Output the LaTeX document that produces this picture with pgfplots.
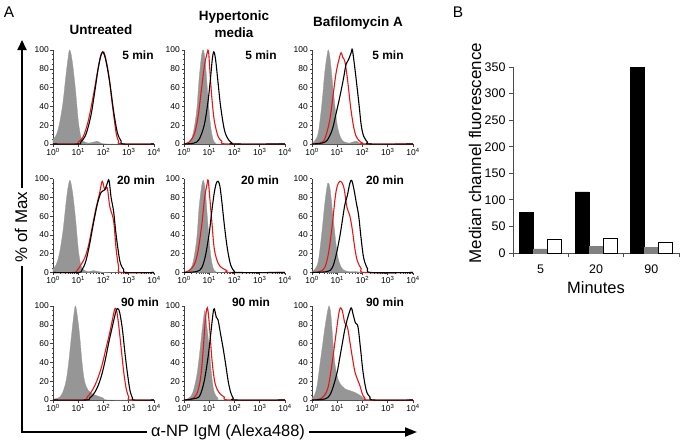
\documentclass[border=0pt]{standalone}
\usepackage{fontspec}
\setmainfont{Liberation Sans}
\usepackage{pgfplots}
\pgfplotsset{compat=1.18}
\usetikzlibrary{arrows.meta}

\definecolor{histgray}{RGB}{150,150,150}
\definecolor{fred}{RGB}{235,20,20}
\definecolor{bargray}{RGB}{128,128,128}

% one histogram panel, x in log10 units
\pgfplotsset{hist/.style={
  scale only axis, width=101bp, height=94bp, anchor=south west,
  xmin=0, xmax=4, ymin=0, ymax=100, clip=false,
  axis lines*=left, axis line style={black!75, line width=0.6bp},
  xtick={0,1,2,3,4},
  xticklabels={10\textsuperscript{0},10\textsuperscript{1},10\textsuperscript{2},10\textsuperscript{3},10\textsuperscript{4}},
  minor xtick={0.301,0.477,0.602,0.699,0.778,0.845,0.903,0.954,
    1.301,1.477,1.602,1.699,1.778,1.845,1.903,1.954,
    2.301,2.477,2.602,2.699,2.778,2.845,2.903,2.954,
    3.301,3.477,3.602,3.699,3.778,3.845,3.903,3.954},
  ytick={0,20,...,100}, minor y tick num=3,
  tick align=outside, major tick length=2.5bp, minor tick length=1.3bp,
  tick style={black!75, line width=0.5bp},
  ticklabel style={font=\fontsize{8.5}{9}\selectfont, inner sep=1.5bp},
  /pgf/number format/assume math mode=true,
  every axis plot/.append style={line width=1.1bp, smooth, tension=0.55},
}}
\pgfplotsset{gfill/.style={fill=histgray, draw=histgray, line width=0.3bp}}

\begin{document}
\begin{tikzpicture}
\useasboundingbox (0,0) rectangle (683bp,-440bp);

% ---------- row 1: 5 min ----------
\begin{axis}[hist, at={(53bp,-144bp)}]
\addplot[gfill] coordinates {(0,5)(0.1,8)(0.2,15)(0.3,28)(0.4,45)(0.5,70)(0.58,88)(0.65,100)(0.72,95)(0.8,80)(0.9,55)(1.0,25)(1.1,8)(1.2,3)(1.4,1)(1.6,2)(1.75,3)(1.9,1)(2.2,0)(4,0)} \closedcycle;
\addplot[fred] coordinates {(0,0)(0.9,0)(1.0,2)(1.2,8)(1.4,25)(1.6,52)(1.75,75)(1.88,93)(1.97,98)(2.05,95)(2.2,75)(2.35,42)(2.5,12)(2.6,3)(2.7,0)(4,0)};
\addplot[black] coordinates {(0,0)(1.0,0)(1.1,2)(1.3,10)(1.5,30)(1.65,55)(1.8,82)(1.92,96)(2.0,97)(2.1,88)(2.25,65)(2.4,35)(2.55,12)(2.7,3)(2.8,0)(4,0)};
\end{axis}
\begin{axis}[hist, at={(184bp,-144bp)}]
\addplot[gfill] coordinates {(0,0)(0.2,2)(0.35,10)(0.5,35)(0.6,70)(0.7,95)(0.77,100)(0.85,85)(0.95,50)(1.05,20)(1.15,5)(1.25,1)(1.4,0)(4,0)} \closedcycle;
\addplot[fred] coordinates {(0,0)(0.2,2)(0.4,10)(0.55,28)(0.7,60)(0.82,85)(0.92,97)(0.97,99)(1.02,80)(1.1,50)(1.2,25)(1.35,8)(1.5,3)(1.7,0)(4,0)};
\addplot[black] coordinates {(0,0)(0.4,1)(0.6,5)(0.8,20)(0.95,45)(1.05,70)(1.12,90)(1.18,98)(1.25,90)(1.35,65)(1.45,40)(1.6,15)(1.75,5)(1.9,1)(2.0,0)(4,0)};
\end{axis}
\begin{axis}[hist, at={(312bp,-144bp)}]
\addplot[gfill] coordinates {(0,1)(0.1,3)(0.25,12)(0.4,45)(0.5,75)(0.6,95)(0.65,100)(0.72,90)(0.85,55)(1.0,20)(1.15,6)(1.3,2)(1.5,1)(1.6,2)(1.75,3)(1.9,1)(2.2,0)(4,0)} \closedcycle;
\addplot[fred] coordinates {(0,0)(0.3,1)(0.5,5)(0.7,25)(0.85,55)(0.95,75)(1.05,88)(1.15,97)(1.22,92)(1.3,88)(1.4,70)(1.55,35)(1.7,12)(1.85,4)(2.0,1)(2.1,0)(4,0)};
\addplot[black] coordinates {(0,0)(0.4,1)(0.6,4)(0.8,15)(0.95,32)(1.1,50)(1.25,70)(1.35,85)(1.45,90)(1.55,97)(1.6,100)(1.7,80)(1.85,45)(1.95,20)(2.05,8)(2.2,2)(2.3,0)(4,0)};
\end{axis}

% ---------- row 2: 20 min ----------
\begin{axis}[hist, at={(53bp,-272.5bp)}]
\addplot[gfill] coordinates {(0,4)(0.1,7)(0.2,14)(0.3,27)(0.4,45)(0.5,70)(0.58,88)(0.66,98)(0.72,94)(0.8,80)(0.9,55)(1.0,25)(1.1,8)(1.2,3)(1.4,1)(1.6,2)(1.8,1)(2.2,0)(4,0)} \closedcycle;
\addplot[fred] coordinates {(0,0)(0.8,0)(0.95,2)(1.1,8)(1.25,15)(1.4,28)(1.55,48)(1.7,68)(1.85,85)(1.95,97)(2.05,88)(2.15,90)(2.25,70)(2.4,55)(2.5,25)(2.6,6)(2.7,0)(4,0)};
\addplot[black] coordinates {(0,0)(1.0,0)(1.15,3)(1.3,12)(1.45,30)(1.6,52)(1.75,72)(1.9,85)(2.05,88)(2.15,95)(2.22,98)(2.3,80)(2.4,65)(2.5,40)(2.65,12)(2.8,3)(2.9,0)(4,0)};
\end{axis}
\begin{axis}[hist, at={(184bp,-272.5bp)}]
\addplot[gfill] coordinates {(0,0)(0.2,2)(0.35,10)(0.5,35)(0.6,70)(0.7,92)(0.77,98)(0.85,85)(0.95,50)(1.05,20)(1.15,5)(1.25,1)(1.4,0)(4,0)} \closedcycle;
\addplot[fred] coordinates {(0,0)(0.2,2)(0.4,8)(0.55,22)(0.7,50)(0.82,80)(0.92,95)(0.96,98)(1.02,80)(1.1,55)(1.2,25)(1.35,10)(1.5,5)(1.7,2)(1.85,0)(4,0)};
\addplot[black] coordinates {(0,0)(0.5,1)(0.7,5)(0.85,18)(1.0,42)(1.1,65)(1.2,85)(1.28,95)(1.35,97)(1.42,92)(1.5,75)(1.6,50)(1.72,25)(1.85,8)(2.0,1)(2.1,0)(4,0)};
\end{axis}
\begin{axis}[hist, at={(312bp,-272.5bp)}]
\addplot[gfill] coordinates {(0,1)(0.1,3)(0.25,12)(0.4,45)(0.5,72)(0.6,92)(0.65,95)(0.72,88)(0.85,55)(1.0,20)(1.15,6)(1.3,2)(1.5,1)(1.7,1)(2.2,0)(4,0)} \closedcycle;
\addplot[fred] coordinates {(0,0)(0.3,1)(0.5,5)(0.65,20)(0.8,50)(0.92,80)(1.0,92)(1.1,97)(1.2,95)(1.28,88)(1.38,70)(1.5,60)(1.6,45)(1.7,25)(1.8,12)(1.95,4)(2.1,0)(4,0)};
\addplot[black] coordinates {(0,0)(0.6,1)(0.8,5)(0.95,18)(1.1,38)(1.2,55)(1.3,72)(1.4,82)(1.5,95)(1.57,98)(1.65,90)(1.75,75)(1.85,60)(1.95,35)(2.05,15)(2.2,4)(2.35,0)(4,0)};
\end{axis}

% ---------- row 3: 90 min ----------
\begin{axis}[hist, at={(53bp,-400bp)}]
\addplot[gfill] coordinates {(0,1)(0.2,2)(0.35,6)(0.5,18)(0.6,35)(0.7,60)(0.8,85)(0.88,100)(0.95,92)(1.05,70)(1.15,40)(1.25,20)(1.4,10)(1.6,6)(1.8,4)(2.0,2)(2.2,0)(4,0)} \closedcycle;
\addplot[fred] coordinates {(0,0)(1.2,0)(1.35,3)(1.5,8)(1.65,15)(1.8,25)(1.95,38)(2.1,55)(2.25,72)(2.35,85)(2.45,97)(2.52,95)(2.6,80)(2.7,55)(2.8,30)(2.9,12)(3.0,3)(3.05,0)(4,0)};
\addplot[black] coordinates {(0,0)(1.3,0)(1.45,2)(1.6,6)(1.75,13)(1.9,24)(2.05,40)(2.2,60)(2.35,78)(2.5,95)(2.58,97)(2.65,92)(2.75,75)(2.85,50)(2.95,28)(3.05,10)(3.15,2)(3.2,0)(4,0)};
\end{axis}
\begin{axis}[hist, at={(184bp,-400bp)}]
\addplot[gfill] coordinates {(0,0)(0.2,2)(0.35,8)(0.5,25)(0.6,45)(0.7,70)(0.78,88)(0.83,95)(0.9,80)(1.0,55)(1.1,25)(1.2,8)(1.35,2)(1.5,0)(4,0)} \closedcycle;
\addplot[fred] coordinates {(0,0)(0.3,1)(0.5,6)(0.65,22)(0.75,50)(0.83,80)(0.9,97)(0.95,95)(1.02,75)(1.1,45)(1.2,22)(1.3,12)(1.45,6)(1.6,3)(1.8,0)(4,0)};
\addplot[black] coordinates {(0,0)(0.5,2)(0.65,6)(0.8,20)(0.95,45)(1.05,68)(1.15,92)(1.2,97)(1.28,88)(1.35,85)(1.45,70)(1.55,55)(1.65,38)(1.75,20)(1.85,8)(1.95,2)(2.05,0)(4,0)};
\end{axis}
\begin{axis}[hist, at={(312bp,-400bp)}]
\addplot[gfill] coordinates {(0,2)(0.1,5)(0.2,15)(0.3,35)(0.4,55)(0.5,75)(0.6,92)(0.68,100)(0.75,90)(0.82,65)(0.9,40)(1.0,25)(1.1,18)(1.3,12)(1.5,10)(1.7,8)(1.9,5)(2.05,2)(2.2,0)(4,0)} \closedcycle;
\addplot[fred] coordinates {(0,0)(0.3,1)(0.5,5)(0.65,15)(0.8,40)(0.95,70)(1.05,90)(1.12,98)(1.2,95)(1.3,82)(1.4,78)(1.5,62)(1.6,45)(1.7,30)(1.8,22)(1.9,15)(2.0,6)(2.1,2)(2.25,0)(4,0)};
\addplot[black] coordinates {(0,0)(0.5,1)(0.7,5)(0.85,15)(1.0,30)(1.1,45)(1.2,60)(1.3,75)(1.42,88)(1.55,98)(1.62,92)(1.72,82)(1.82,78)(1.92,55)(2.02,30)(2.15,10)(2.3,3)(2.45,0)(4,0)};
\end{axis}

% ---------- panel B ----------
\begin{axis}[scale only axis, width=166bp, height=186bp, anchor=south west, at={(513bp,-253bp)},
  xmin=0, xmax=3, ymin=0, ymax=350,
  axis lines*=left, axis line style={black!70, line width=0.8bp},
  ybar=0pt, bar width=14bp,
  ytick={0,50,...,350}, tick align=outside, major tick length=4bp,
  tick style={black!70, line width=0.8bp},
  xtick={0,1,2,3}, xticklabels={},
  extra x ticks={0.5,1.5,2.5}, extra x tick labels={5,20,90},
  extra x tick style={major tick length=0pt, xticklabel style={yshift=-8bp}},
  ticklabel style={font=\fontsize{12.5}{13}\selectfont},
  /pgf/number format/assume math mode=true]
\addplot[fill=black, draw=black] coordinates {(0.5,77)(1.5,115)(2.5,350)};
\addplot[fill=bargray, draw=bargray] coordinates {(0.5,8)(1.5,13)(2.5,10)};
\addplot[fill=white, draw=black, line width=0.6bp] coordinates {(0.5,25)(1.5,27)(2.5,21)};
\end{axis}

% ---------- frame arrows and text ----------
\draw[line width=2bp, {Triangle[length=10bp,width=9bp]}-{Triangle[length=12bp,width=9bp]}]
  (22bp,-40bp) -- (22bp,-432bp) -- (417bp,-432bp);
\node[fill=white, inner sep=4bp, rotate=90, font=\fontsize{17}{19}\selectfont] at (21bp,-227bp) {\% of Max};
\node[fill=white, inner sep=4bp, font=\fontsize{16.5}{19}\selectfont] at (228bp,-432bp) {α-NP IgM (Alexa488)};

\node[font=\fontsize{15.5}{17}\selectfont] at (9bp,-12bp) {A};
\node[font=\fontsize{15.5}{17}\selectfont] at (458bp,-12bp) {B};

\begin{scope}[every node/.style={font=\bfseries\fontsize{13.5}{15}\selectfont, inner sep=0pt}]
\node at (101bp,-30bp) {Untreated};
\node at (234bp,-17bp) {Hypertonic};
\node at (234bp,-33bp) {media};
\node at (358bp,-23bp) {Bafilomycin A};
\end{scope}

\begin{scope}[every node/.style={font=\bfseries\fontsize{12}{14}\selectfont, inner sep=0pt}]
\node at (138bp,-55bp) {5 min};
\node at (261bp,-55bp) {5 min};
\node at (388bp,-55bp) {5 min};
\node at (136bp,-180bp) {20 min};
\node at (260bp,-180bp) {20 min};
\node at (385bp,-180bp) {20 min};
\node at (140bp,-302bp) {90 min};
\node at (251bp,-302bp) {90 min};
\node at (385bp,-302bp) {90 min};
\end{scope}

\node[rotate=90, font=\fontsize{17}{19}\selectfont] at (475bp,-153bp) {Median channel fluorescence};
\node[font=\fontsize{16.5}{19}\selectfont] at (596bp,-288bp) {Minutes};
\end{tikzpicture}
\end{document}
